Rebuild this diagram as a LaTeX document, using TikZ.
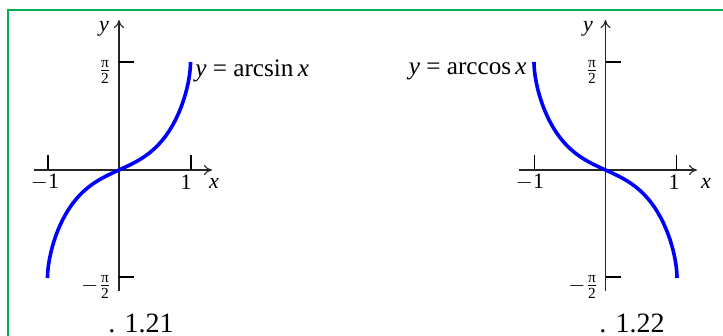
\documentclass[tikz,border=0pt]{standalone}
\usepackage{fontspec}
\usepackage{amsmath}
\setmainfont{Liberation Serif}
\usetikzlibrary{arrows.meta}
\definecolor{framegreen}{RGB}{0,176,80}
\tikzset{
  axisline/.style={line width=0.55pt, draw=black!85, -{To[length=4pt,width=5pt]}},
  tickmark/.style={line width=0.7pt, draw=black},
  curveline/.style={draw={rgb,255:red,0;green,0;blue,255}, line width=1.8pt},
  lbl/.style={font=\fontsize{11}{13}\selectfont, inner sep=0pt},
  fnlbl/.style={font=\fontsize{12.6}{14}\selectfont, inner sep=0pt},
  caplbl/.style={font=\fontsize{14}{16}\selectfont, inner sep=0pt}
}
\newcommand{\halfpi}{$\frac{\text{π}}{\text{2}}$}
\begin{document}
\begin{tikzpicture}[x=0.5pt,y=-0.5pt]
\useasboundingbox (0,0) rectangle (723,336);
\fill[white] (0,0) rectangle (723,336);
\draw[framegreen, line width=0.9pt] (8,10) rectangle (760,380);
% left plot
\draw[axisline] (34,170) -- (212,170);
\draw[axisline] (119,291) -- (119,20);
\draw[tickmark] (48,155) -- (48,170);
\draw[tickmark] (191,155) -- (191,170);
\draw[tickmark] (119,62) -- (134,62);
\draw[tickmark] (119,277) -- (134,277);
\draw[curveline] plot[domain=-90:90, samples=121, variable=\t]
  ({119+71.5*sin(\t)},{170-1.2*\t*(0.47+0.53*sin(\t)*sin(\t))});
\node[lbl] (ly) at (104,29) {\textit{y}};
\node[lbl] (lpi) at (105,72) {\halfpi};
\node[lbl] (lmm) at (90,286) {$-$};
\node[lbl] (lmpi) at (105,287) {\halfpi};
\node[lbl] (lm1) at (45,182) {$-$1};
\node[lbl] (l1) at (186,182) {1};
\node[lbl] (lx) at (214,183) {\textit{x}};
\node[fnlbl, anchor=west] (lf) at (195,71) {\textit{y} = arcsin\,\textit{x}};
\node[caplbl] (lcap) at (141,323) {. 1.21};
% right plot
\draw[axisline] (519,170) -- (697,170);
\draw[axisline] (605.5,291) -- (605.5,20);
\draw[tickmark] (534.5,155) -- (534.5,170);
\draw[tickmark] (676.5,155) -- (676.5,170);
\draw[tickmark] (605.5,62) -- (620.5,62);
\draw[tickmark] (605.5,277) -- (620.5,277);
\draw[curveline] plot[domain=-90:90, samples=121, variable=\t]
  ({605.5-71.5*sin(\t)},{170-1.2*\t*(0.47+0.53*sin(\t)*sin(\t))});
\node[lbl] (ry) at (588,29) {\textit{y}};
\node[lbl] (rpi) at (592,72) {\halfpi};
\node[lbl] (rmm) at (577,286) {$-$};
\node[lbl] (rmpi) at (592,287) {\halfpi};
\node[lbl] (rm1) at (530,182) {$-$1};
\node[lbl] (r1) at (674,182) {1};
\node[lbl] (rx) at (706,183) {\textit{x}};
\node[fnlbl, anchor=east] (rf) at (527,71) {\textit{y} = arccos\,\textit{x}};
\node[caplbl] (rcap) at (632,323) {. 1.22};
\end{tikzpicture}
\end{document}
